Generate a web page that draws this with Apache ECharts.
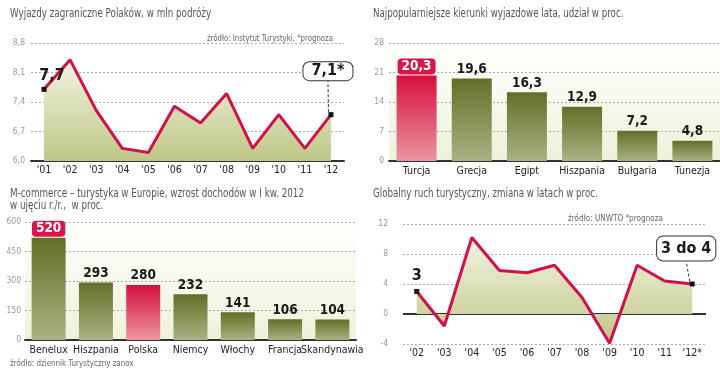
<!DOCTYPE html>
<html><head><meta charset="utf-8">
<script src="https://cdn.jsdelivr.net/npm/echarts@6/dist/echarts.min.js"></script>
<style>html,body{margin:0;padding:0;background:#fff}#c{width:720px;height:384px}</style>
</head><body><div id="c"></div>
<script>
// ---------- data ----------
const tripYears = ["'01","'02","'03","'04","'05","'06","'07","'08","'09","'10","'11","'12"];
const tripValues = [7.7, 8.4, 7.2, 6.3, 6.2, 7.3, 6.9, 7.6, 6.3, 7.1, 6.3, 7.1];
const tripAxis = [6.0, 8.8, 0.7];           // min, max, step
const destNames = ['Turcja','Grecja','Egipt','Hiszpania','Bułgaria','Tunezja'];
const destShares = [20.3, 19.6, 16.3, 12.9, 7.2, 4.8];
const destAxis = [0, 28, 7];
const mcomCountries = ['Benelux','Hiszpania','Polska','Niemcy','Włochy','Francja','Skandynawia'];
const mcomGrowth = [520, 293, 280, 232, 141, 106, 104];
const mcomAxis = [0, 600, 150];
const worldYears = ["'02","'03","'04","'05","'06","'07","'08","'09","'10","'11","'12*"];
const worldChange = [3, -1.6, 10.2, 5.8, 5.5, 6.5, 2.2, -3.9, 6.5, 4.4, 4.0];
const worldAxis = [-4, 12, 4];
const worldForecastText = '3 do 4';

// ---------- styles ----------
const NARROW = "'Liberation Sans Narrow','DejaVu Sans Condensed','Arial Narrow',sans-serif";
const fmtPL = v => String(v).replace('.', ',');
const lineRed = '#d2104a';
const grad = (a, b) => ({type:'linear',x:0,y:0,x2:0,y2:1,colorStops:[{offset:0,color:a},{offset:1,color:b}]});
const redGrad = grad('#d40f3e', '#ec96a2');
const oliveGrad = grad('#626f28', '#aab383');
const areaGrad = grad('#f3f4e2', '#bfc787');
const creamGrad = grad('#ffffff', '#f0f1da');

function catAxis(gridIndex, data, extra) {
  return Object.assign({type:'category', gridIndex, data, boundaryGap:true,
    axisLine:{show:true, onZero:false, lineStyle:{color:'#333', width:2}}, axisTick:{show:false},
    axisLabel:{color:'#222', fontSize:10.5, fontFamily:NARROW, margin:5, interval:0}}, extra || {});
}
function valAxis(gridIndex, ax, fmt, margin) {
  return {type:'value', gridIndex, min:ax[0], max:ax[1], interval:ax[2],
    axisLine:{show:false}, axisTick:{show:false},
    axisLabel:{color:'#999', fontSize:8.5, fontFamily:NARROW, margin, formatter:fmt},
    splitLine:{show:true, lineStyle:{color:'#aaa', type:[2,2], width:1}}};
}
const txt = (x, y, text, sx, opt) => ({type:'text', x, y, scaleX:sx, silent:true,
  style:Object.assign({text, fill:'#555', font:"11.5px " + NARROW, align:'left', verticalAlign:'middle'}, opt || {})});
const SRC = {font:"9px " + NARROW, fill:'#666'};

const bigLabel = {show:true, position:'top', distance:5, fontFamily:NARROW, fontWeight:'bold', fontSize:16, color:'#1a1a1a'};
const boxLabel = {show:true, position:'top', distance:5, fontFamily:NARROW, fontWeight:'bold', fontSize:16, color:'#1a1a1a',
  backgroundColor:'#fff', borderColor:'#333', borderWidth:1, borderRadius:6, padding:[2,7]};
const endSym = {symbol:'rect', symbolSize:5, itemStyle:{color:'#111'}};

function lineData(values, firstText, lastText, lastPad) {
  const n = values.length - 1;
  return values.map((v, i) => {
    if (i === 0) return Object.assign({value:v, label:Object.assign({}, bigLabel, {formatter:firstText})}, endSym);
    if (i === n) return Object.assign({value:v, label:Object.assign({}, boxLabel, {formatter:lastText, padding:lastPad}),
      labelLine:{show:true, lineStyle:{color:'#333', width:1, type:[3,2]}}}, endSym);
    return {value:v, symbol:'none', label:{show:false}};
  });
}
function barData(values, redBar, boxBar, fmt) {
  return values.map((v, i) => ({
    value:v,
    itemStyle:{color: i === redBar ? redGrad : oliveGrad},
    label: i === boxBar ? {show:true, position:'top', distance:1, formatter:fmt(v), color:'#fff', backgroundColor:'#d6174a',
      borderRadius:4, padding:[1,4], fontFamily:NARROW, fontWeight:'bold', fontSize:13.5} : undefined
  }));
}
const barLabel = {show:true, position:'top', distance:2, fontFamily:NARROW, fontWeight:'bold', fontSize:13.5, color:'#1a1a1a'};

const chart = echarts.init(document.getElementById('c'));
chart.setOption({
  animation:false,
  backgroundColor:'#fff',
  grid:[
    {left:31, right:376, top:43, bottom:223},
    {left:389, right:0, top:43, bottom:223, show:true, backgroundColor:creamGrad, borderWidth:0},
    {left:25, right:364, top:222, bottom:44, show:true, backgroundColor:creamGrad, borderWidth:0},
    {left:403, right:14, top:224, bottom:40}
  ],
  xAxis:[
    catAxis(0, tripYears, {axisLabel:{color:'#222', fontSize:10.5, fontFamily:NARROW, margin:4, interval:0}}),
    catAxis(1, destNames),
    catAxis(2, mcomCountries, {axisLabel:{color:'#222', fontSize:10.5, fontFamily:NARROW, margin:5, interval:0}}),
    catAxis(3, worldYears, {axisLine:{show:false}, axisLabel:{color:'#222', fontSize:10.5, fontFamily:NARROW, margin:4, interval:0}})
  ],
  yAxis:[
    valAxis(0, tripAxis, v => v.toFixed(1).replace('.', ','), 6),
    valAxis(1, destAxis, v => String(v), 5),
    valAxis(2, mcomAxis, v => String(v), 4),
    valAxis(3, worldAxis, v => String(v), 15)
  ],
  series:[
    {type:'line', xAxisIndex:0, yAxisIndex:0, z:3,
      data: lineData(tripValues, fmtPL(tripValues[0]), fmtPL(tripValues[tripValues.length-1]) + '*', [1,8]),
      lineStyle:{color:lineRed, width:3}, areaStyle:{color:areaGrad, origin:'start', opacity:1},
      labelLayout: p => p.dataIndex === tripValues.length - 1 ? {dx:-3, dy:-27} : {dx:8, dy:2}
    },
    {type:'bar', xAxisIndex:1, yAxisIndex:1, barWidth:40,
      data: barData(destShares, 0, 0, fmtPL), label:Object.assign({}, barLabel, {formatter: p => fmtPL(p.value)})},
    {type:'bar', xAxisIndex:2, yAxisIndex:2, barWidth:34,
      data: barData(mcomGrowth, 2, 0, String), label:Object.assign({}, barLabel, {formatter: p => String(p.value)})},
    {type:'line', xAxisIndex:3, yAxisIndex:3, z:3,
      data: lineData(worldChange, fmtPL(worldChange[0]), worldForecastText, [4,4]),
      lineStyle:{color:lineRed, width:3}, areaStyle:{color:areaGrad, origin:'auto', opacity:1},
      labelLayout: p => p.dataIndex === worldChange.length - 1 ? {dx:-6, dy:-16} : null,
      markLine:{silent:true, symbol:'none', z:2, label:{show:false}, lineStyle:{color:'#333', width:2, type:'solid'}, data:[{yAxis:0}]}
    }
  ],
  graphic:[
    txt(10, 14, 'Wyjazdy zagraniczne Polaków, w mln podróży', 0.85),
    txt(333, 39, 'źródło: Instytut Turystyki, *prognoza', 0.86, Object.assign({align:'right'}, SRC)),
    txt(373, 14, 'Najpopularniejsze kierunki wyjazdowe lata, udział w proc.', 0.84),
    txt(10, 194, 'M-commerce – turystyka w Europie, wzrost dochodów w I kw. 2012', 0.85),
    txt(10, 206, 'w ujęciu r./r.,  w proc.', 0.85),
    txt(10, 364, 'źródło: dziennik Turystyczny zanox', 0.88, SRC),
    txt(373, 194, 'Globalny ruch turystyczny, zmiana w latach w proc.', 0.84),
    txt(663, 219, 'źródło: UNWTO *prognoza', 0.9, Object.assign({align:'right'}, SRC))
  ]
});
</script></body></html>
